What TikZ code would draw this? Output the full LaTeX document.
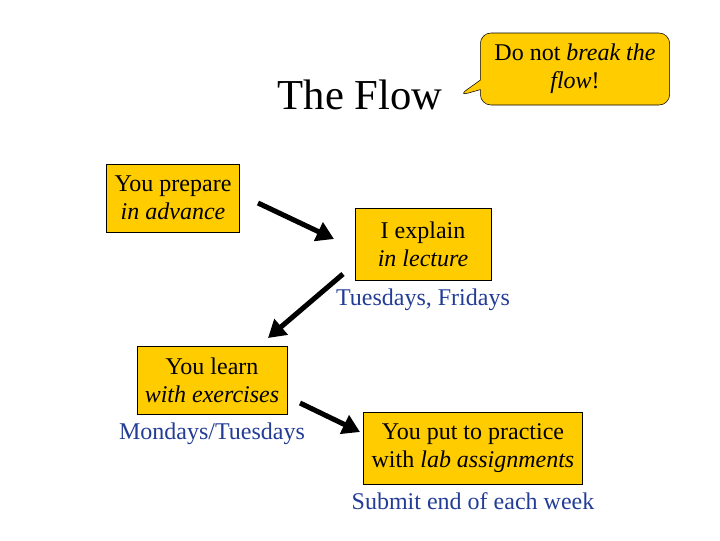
\documentclass[tikz,border=0pt]{standalone}
\usepackage{fontspec}
\setmainfont{Liberation Serif}
\usetikzlibrary{positioning, arrows.meta, shapes.callouts}
\definecolor{gold}{RGB}{255,204,0}
\definecolor{noteblue}{RGB}{35,60,150}
\tikzset{
  stage/.style={draw, fill=gold, align=center, inner xsep=6pt, inner ysep=4pt,
    minimum height=51pt, font=\fontsize{18}{21}\selectfont},
  when/.style={text=noteblue, inner sep=0pt, font=\fontsize{18}{21}\selectfont},
  flowarrow/.style={line width=3.8pt, -{Triangle[length=13pt,width=15pt]}},
}

\begin{document}
\begin{tikzpicture}[x=0.75pt, y=-0.75pt]
			\useasboundingbox (0,0) rectangle (720,540);
			
			\node[font=\fontsize{32}{36}\selectfont] (title) at (360,95) {The Flow};
			\node[rectangle callout, draw, fill=gold, rounded corners=8pt, align=center,
			      minimum width=142pt, minimum height=54pt, font=\fontsize{18}{21}\selectfont,
			      callout absolute pointer={(458,96)}] (warn) at (575,69)
			      {Do not \textit{break the}\\\textit{flow}!};
			
			\node[stage] (prep) at (173,198) {You prepare\\\textit{in advance}};
			\node[stage, minimum width=102pt, minimum height=54pt] (lect) at (423,244) {I explain\\\textit{in lecture}};
			\node[when, below=6pt of lect] (lectday) {Tuesdays, Fridays};
			\node[stage] (exer) at (212,380) {You learn\\\textit{with exercises}};
			\node[when, below=6pt of exer] (exerday) {Mondays/Tuesdays};
			\node[stage, minimum height=54pt] (lab) at (473,448) {You put to practice\\with \textit{lab assignments}};
			\node[when, below=6pt of lab] (labday) {Submit end of each week};
			
			% arrow ends
			\coordinate (a1s) at (258,203);
			\coordinate (a1e) at (334,239);
			\coordinate (a2s) at (343,274);
			\coordinate (a2e) at (268,338);
			\coordinate (a3s) at (300,403);
			\coordinate (a3e) at (360,432);
			
			\draw[flowarrow] (a1s) -- (a1e);
			\draw[flowarrow] (a2s) -- (a2e);
			\draw[flowarrow] (a3s) -- (a3e);
		\end{tikzpicture}
\end{document}
